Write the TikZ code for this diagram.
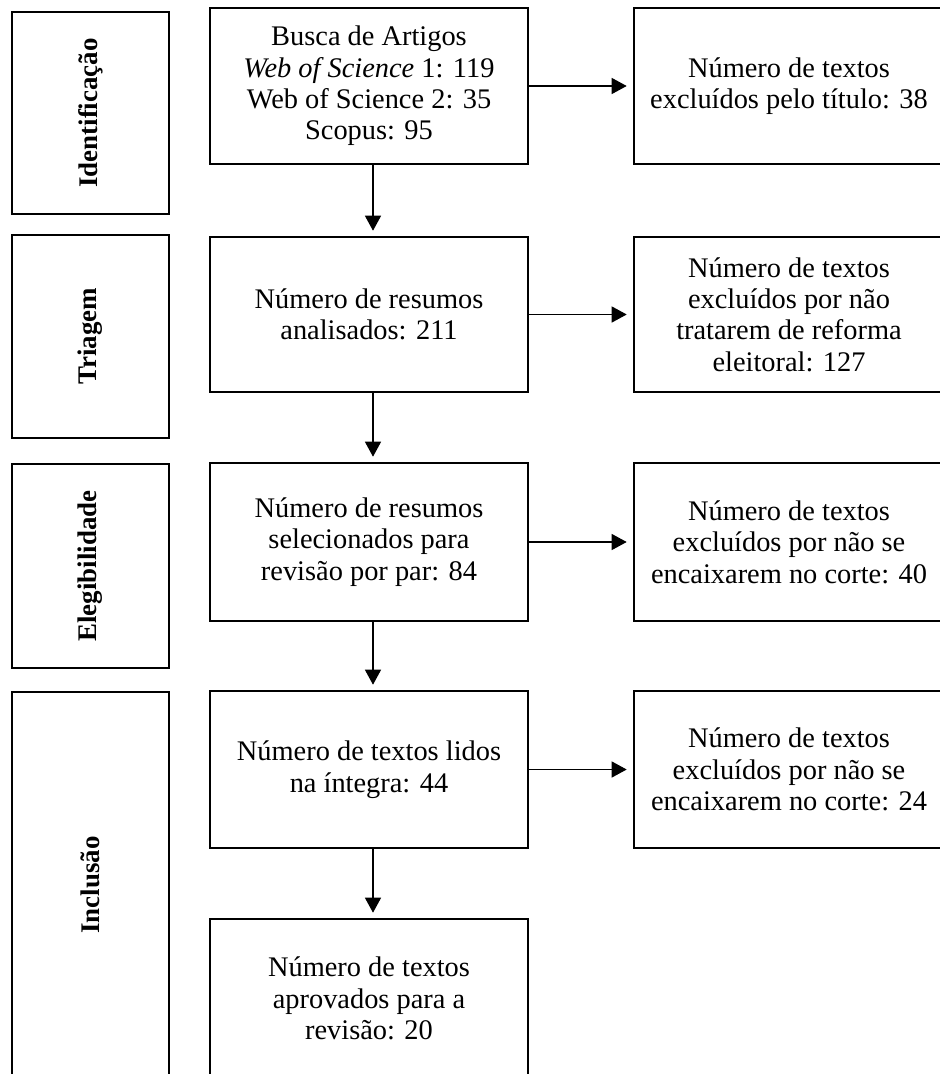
\documentclass[tikz,border=0pt]{standalone}
\usepackage{fontspec}
\setmainfont{Liberation Serif}
\usetikzlibrary{arrows.meta}
\begin{document}
\begin{tikzpicture}[x=1bp,y=-1bp,
  box/.style={draw, line width=2.6bp, inner sep=0pt, align=center,
    font=\fontsize{28.5}{31.5}\selectfont},
  stage/.style={draw, line width=2.6bp, inner sep=0pt, minimum width=157bp},
  stagelabel/.style={rotate=90, font=\bfseries\fontsize{27}{30}\selectfont},
  midbox/.style={box, minimum width=318bp},
  rightbox/.style={box, minimum width=310bp},
  flow/.style={line width=1.3bp, -{Triangle[width=16bp,length=15bp]}}
]
\useasboundingbox (0,0) rectangle (940,1074);
\clip (0,0) rectangle (940,1074);
\fill[white] (0,0) rectangle (940,1074);

% stage boxes
\node[stage, minimum height=202bp] (L1) at (90.5,113) {};
\node[stagelabel] (t1) at (L1.center) {Identificação};
\node[stage, minimum height=203bp] (L2) at (90.5,336.5) {};
\node[stagelabel] (t2) at (L2.center) {Triagem};
\node[stage, minimum height=204bp] (L3) at (90.5,566) {};
\node[stagelabel] (t3) at (L3.center) {Elegibilidade};
\node[stage, minimum height=386bp] (L4) at (90.5,885) {};
\node[stagelabel] (t4) at (L4.center) {Inclusão};

% middle column
\node[midbox, minimum height=156bp] (M1) at (369,86) {Busca de Artigos\\ \textit{Web of Science} 1: 119\\ Web of Science 2: 35\\ Scopus: 95};
\node[midbox, minimum height=155bp] (M2) at (369,314.5) {Número de resumos\\ analisados: 211};
\node[midbox, minimum height=158bp] (M3) at (369,542) {Número de resumos\\ selecionados para\\ revisão por par: 84};
\node[midbox, minimum height=157bp] (M4) at (369,769.5) {Número de textos lidos\\ na íntegra: 44};
\node[midbox, minimum height=159bp] (M5) at (369,998.5) {Número de textos\\ aprovados para a\\ revisão: 20};

% right column
\node[rightbox, minimum height=156bp] (R1) at (789,86) {Número de textos\\ excluídos pelo título: 38};
\node[rightbox, minimum height=155bp] (R2) at (789,314.5) {Número de textos\\ excluídos por não\\ tratarem de reforma\\ eleitoral: 127};
\node[rightbox, minimum height=158bp] (R3) at (789,542) {Número de textos\\ excluídos por não se\\ encaixarem no corte: 40};
\node[rightbox, minimum height=157bp] (R4) at (789,769.5) {Número de textos\\ excluídos por não se\\ encaixarem no corte: 24};

% horizontal arrows
\foreach \i in {1,2,3,4}
  \draw[flow, shorten >=6bp] (M\i.east) -- (R\i.west);

% vertical arrows
\draw[flow, shorten >=5bp] ([xshift=4bp]M1.south) -- ([xshift=4bp]M2.north);
\draw[flow, shorten >=5bp] ([xshift=4bp]M2.south) -- ([xshift=4bp]M3.north);
\draw[flow, shorten >=5bp] ([xshift=4bp]M3.south) -- ([xshift=4bp]M4.north);
\draw[flow, shorten >=5bp] ([xshift=4bp]M4.south) -- ([xshift=4bp]M5.north);
\end{tikzpicture}
\end{document}
